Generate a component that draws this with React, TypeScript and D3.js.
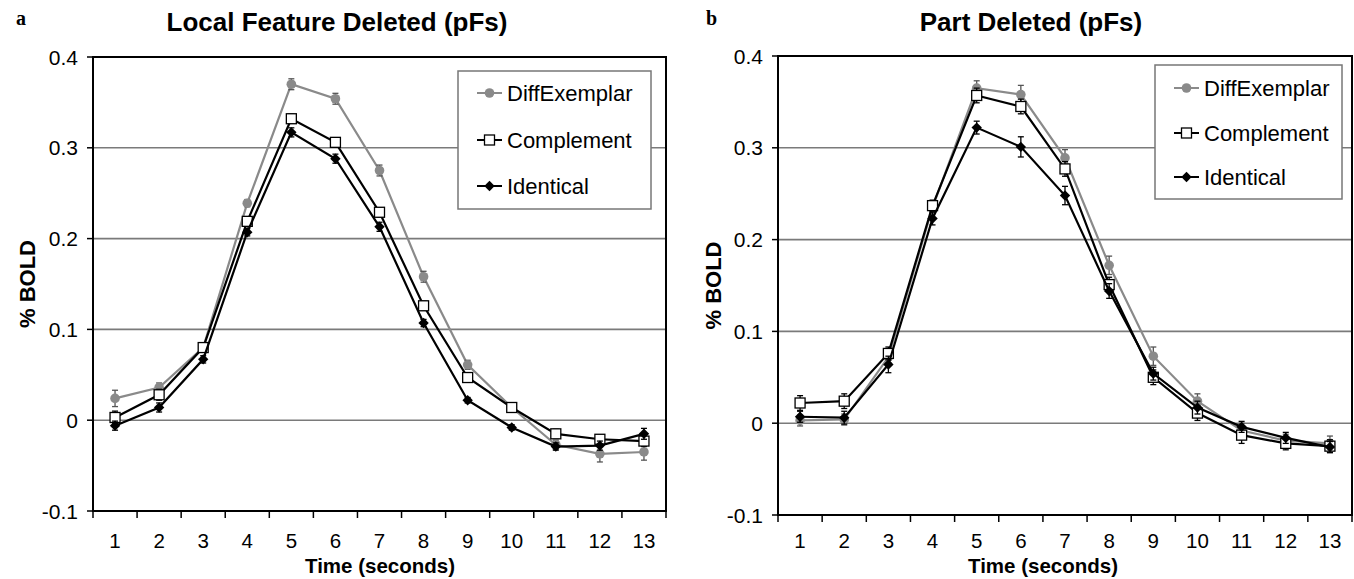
import React from "react";
import * as d3 from "d3";

const times = [1, 2, 3, 4, 5, 6, 7, 8, 9, 10, 11, 12, 13];
const yTicks = [-0.1, 0, 0.1, 0.2, 0.3, 0.4];
const seriesNames = ["DiffExemplar", "Complement", "Identical"];

// Panel a: Local Feature Deleted (pFs)
const aDiff = [0.024, 0.036, 0.08, 0.239, 0.37, 0.354, 0.275, 0.158, 0.061, 0.014, -0.027, -0.037, -0.035];
const aComp = [0.003, 0.028, 0.08, 0.219, 0.332, 0.306, 0.229, 0.126, 0.047, 0.014, -0.015, -0.021, -0.023];
const aIdent = [-0.006, 0.014, 0.067, 0.207, 0.317, 0.288, 0.213, 0.107, 0.022, -0.008, -0.029, -0.028, -0.015];
const aDiffErr = [0.009, 0.005, 0.004, 0.004, 0.006, 0.006, 0.006, 0.006, 0.005, 0.004, 0.005, 0.009, 0.009];
const aCompErr = [0.007, 0.006, 0.005, 0.005, 0.005, 0.005, 0.005, 0.005, 0.005, 0.004, 0.005, 0.004, 0.006];
const aIdentErr = [0.005, 0.005, 0.004, 0.004, 0.005, 0.005, 0.005, 0.004, 0.003, 0.003, 0.004, 0.005, 0.006];

// Panel b: Part Deleted (pFs)
const bDiff = [0.003, 0.004, 0.072, 0.235, 0.365, 0.358, 0.289, 0.172, 0.073, 0.024, -0.008, -0.019, -0.022];
const bComp = [0.022, 0.024, 0.076, 0.237, 0.357, 0.345, 0.277, 0.151, 0.05, 0.011, -0.013, -0.022, -0.025];
const bIdent = [0.007, 0.006, 0.064, 0.223, 0.322, 0.301, 0.248, 0.144, 0.054, 0.017, -0.004, -0.016, -0.026];
const bDiffErr = [0.006, 0.006, 0.006, 0.006, 0.008, 0.01, 0.009, 0.01, 0.01, 0.008, 0.008, 0.007, 0.008];
const bCompErr = [0.008, 0.008, 0.007, 0.006, 0.008, 0.008, 0.008, 0.008, 0.008, 0.008, 0.009, 0.007, 0.007];
const bIdentErr = [0.006, 0.007, 0.009, 0.007, 0.007, 0.011, 0.01, 0.008, 0.007, 0.007, 0.006, 0.006, 0.006];

const FONT = "'Liberation Sans', Arial, sans-serif";
const GRAY = "#8a8a8a";

type PanelProps = {
  letter: string;
  title: string;
  left: number;
  right: number;
  top: number;
  bottom: number;
  letterX: number;
  titleX: number;
  yLabelX: number;
  xTitleX: number;
  legend: { x: number; y: number; w: number; h: number; rows: number[] };
  data: number[][];
  errs: number[][];
};

function Marker({ kind, x, y }: { kind: number; x: number; y: number }) {
  if (kind === 0) return <circle cx={x} cy={y} r={4.8} fill={GRAY} />;
  if (kind === 1)
    return <rect x={x - 5} y={y - 5} width={10} height={10} fill="#fff" stroke="#000" strokeWidth={1.3} />;
  const s = 5.2;
  return <path d={`M${x},${y - s}L${x + s},${y}L${x},${y + s}L${x - s},${y}Z`} fill="#000" />;
}

function Panel(p: PanelProps) {
  const x = d3.scaleBand<number>().domain(times).range([p.left, p.right]);
  const y = d3.scaleLinear().domain([-0.1, 0.4]).range([p.bottom, p.top]);
  const cx = (t: number) => (x(t) as number) + x.bandwidth() / 2;
  const colors = [GRAY, "#000", "#000"];
  const order = [0, 1, 2];
  const lineGen = (vals: number[]) =>
    d3
      .line<number>()
      .x((_, i) => cx(times[i]))
      .y((v) => y(v))(vals) as string;
  const boundaries = d3.range(times.length + 1).map((i) => p.left + i * x.bandwidth());
  return (
    <g>
      <text x={p.letterX} y={25} fontFamily="'Liberation Serif', 'Times New Roman', serif" fontWeight="bold" fontSize={20}>
        {p.letter}
      </text>
      <text x={p.titleX} y={31} textAnchor="middle" fontFamily={FONT} fontWeight="bold" fontSize={26}>
        {p.title}
      </text>
      {/* gridlines */}
      {yTicks
        .filter((t) => t > -0.1 && t < 0.4)
        .map((t) => (
          <line key={t} x1={p.left} x2={p.right} y1={y(t)} y2={y(t)} stroke="#7a7a7a" strokeWidth={1.6} />
        ))}
      {/* frame */}
      <rect x={p.left} y={p.top} width={p.right - p.left} height={p.bottom - p.top} fill="none" stroke="#000" strokeWidth={2} />
      {/* y ticks */}
      {yTicks.map((t) => (
        <g key={t}>
          <line x1={p.left - 6} x2={p.left} y1={y(t)} y2={y(t)} stroke="#000" strokeWidth={1.5} />
          <text x={p.left - 15} y={y(t) + 7.5} textAnchor="end" fontFamily={FONT} fontSize={21}>
            {t === 0 ? "0" : t.toFixed(1)}
          </text>
        </g>
      ))}
      {/* x ticks */}
      {boundaries.map((b, i) => (
        <line key={i} x1={b} x2={b} y1={p.bottom} y2={p.bottom + 7} stroke="#000" strokeWidth={1.5} />
      ))}
      {times.map((t) => (
        <text key={t} x={cx(t)} y={548} textAnchor="middle" fontFamily={FONT} fontSize={20.5}>
          {t}
        </text>
      ))}
      <text x={p.xTitleX} y={573} textAnchor="middle" fontFamily={FONT} fontWeight="bold" fontSize={20.5}>
        Time (seconds)
      </text>
      <text
        transform={`translate(${p.yLabelX},${(p.top + p.bottom) / 2}) rotate(-90)`}
        textAnchor="middle"
        fontFamily={FONT}
        fontWeight="bold"
        fontSize={22}
      >
        % BOLD
      </text>
      {/* legend */}
      <rect x={p.legend.x} y={p.legend.y} width={p.legend.w} height={p.legend.h} fill="#fff" stroke="#777" strokeWidth={1.5} />
      {seriesNames.map((n, i) => (
        <g key={n}>
          <line
            x1={p.legend.x + 19}
            x2={p.legend.x + 44}
            y1={p.legend.rows[i]}
            y2={p.legend.rows[i]}
            stroke={colors[i]}
            strokeWidth={2}
          />
          <Marker kind={i} x={p.legend.x + 31.5} y={p.legend.rows[i]} />
          <text x={p.legend.x + 49} y={p.legend.rows[i] + 8} fontFamily={FONT} fontSize={22}>
            {n}
          </text>
        </g>
      ))}
      {/* series */}
      {order.map((si) => (
        <g key={si}>
          <path d={lineGen(p.data[si])} fill="none" stroke={colors[si]} strokeWidth={2.2} />
          {p.data[si].map((v, i) => {
            const e = p.errs[si][i];
            const xx = cx(times[i]);
            return (
              <g key={i} stroke={si === 0 ? "#555" : "#000"} strokeWidth={1.3}>
                <line x1={xx} x2={xx} y1={y(v - e)} y2={y(v + e)} />
                <line x1={xx - 3} x2={xx + 3} y1={y(v - e)} y2={y(v - e)} />
                <line x1={xx - 3} x2={xx + 3} y1={y(v + e)} y2={y(v + e)} />
              </g>
            );
          })}
          {p.data[si].map((v, i) => (
            <Marker key={i} kind={si} x={cx(times[i])} y={y(v)} />
          ))}
        </g>
      ))}
    </g>
  );
}

export default function App() {
  return (
    <svg width={1354} height={579} style={{ position: "absolute", left: 0, top: 0, background: "#fff" }}>
      <rect width={1354} height={579} fill="#fff" />
      <Panel
        letter="a"
        title="Local Feature Deleted (pFs)"
        left={93}
        right={666}
        top={57}
        bottom={511}
        letterX={16}
        titleX={337}
        yLabelX={35}
        xTitleX={380}
        legend={{ x: 458, y: 71, w: 193, h: 138, rows: [93, 140, 186] }}
        data={[aDiff, aComp, aIdent]}
        errs={[aDiffErr, aCompErr, aIdentErr]}
      />
      <Panel
        letter="b"
        title="Part Deleted (pFs)"
        left={778}
        right={1352}
        top={56}
        bottom={515}
        letterX={706}
        titleX={1031}
        yLabelX={721}
        xTitleX={1043}
        legend={{ x: 1155, y: 65, w: 187, h: 134, rows: [88, 133, 177] }}
        data={[bDiff, bComp, bIdent]}
        errs={[bDiffErr, bCompErr, bIdentErr]}
      />
    </svg>
  );
}
